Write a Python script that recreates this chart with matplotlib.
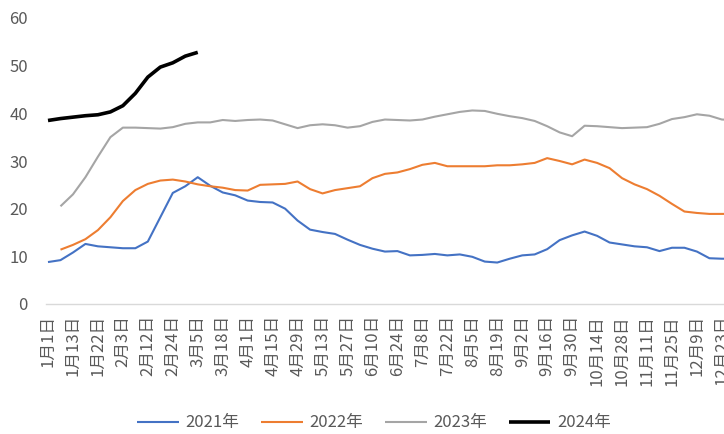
import numpy as np
import matplotlib
matplotlib.use("Agg")
import matplotlib.pyplot as plt

plt.rcParams['font.family'] = ['Noto Sans CJK SC', 'DejaVu Sans']

# weekly categories (every 2nd one is labelled on the axis)
categories = [
    "1月1日", "1月6日", "1月13日", "1月18日", "1月22日", "1月28日", "2月3日", "2月7日",
    "2月12日", "2月18日", "2月24日", "2月29日", "3月5日", "3月11日", "3月18日", "3月25日",
    "4月1日", "4月8日", "4月15日", "4月22日", "4月29日", "5月6日", "5月13日", "5月20日",
    "5月27日", "6月3日", "6月10日", "6月17日", "6月24日", "7月1日", "7月8日", "7月15日",
    "7月22日", "7月29日", "8月5日", "8月12日", "8月19日", "8月26日", "9月2日", "9月9日",
    "9月16日", "9月23日", "9月30日", "10月7日", "10月14日", "10月21日", "10月28日", "11月4日",
    "11月11日", "11月18日", "11月25日", "12月2日", "12月9日", "12月16日", "12月23日", "12月30日",
]

nan = np.nan
s2021 = [8.8, 9.2, 10.8, 12.6, 12.1, 11.9, 11.7, 11.7, 13.1, 18.2, 23.3, 24.7, 26.6, 24.8,
         23.4, 22.8, 21.7, 21.4, 21.3, 20.0, 17.5, 15.6, 15.1, 14.7, 13.5, 12.4, 11.6, 11.0,
         11.1, 10.2, 10.3, 10.5, 10.2, 10.4, 9.9, 8.9, 8.7, 9.5, 10.2, 10.4, 11.5, 13.4, 14.4,
         15.2, 14.3, 12.9, 12.5, 12.1, 11.9, 11.1, 11.8, 11.8, 11.0, 9.6, 9.5, 9.5]
s2022 = [nan, 11.4, 12.4, 13.6, 15.5, 18.2, 21.6, 23.9, 25.2, 25.9, 26.1, 25.7, 25.1, 24.7,
         24.4, 23.9, 23.8, 25.0, 25.1, 25.2, 25.7, 24.1, 23.2, 23.9, 24.3, 24.7, 26.4, 27.3,
         27.6, 28.3, 29.2, 29.6, 28.9, 28.9, 28.9, 28.9, 29.1, 29.1, 29.3, 29.6, 30.6, 30.0,
         29.3, 30.3, 29.6, 28.5, 26.4, 25.1, 24.1, 22.7, 21.0, 19.4, 19.1, 18.9, 18.9, 18.9]
s2023 = [nan, 20.5, 23.0, 26.6, 30.9, 35.0, 37.0, 37.0, 36.9, 36.8, 37.1, 37.8, 38.1, 38.1,
         38.6, 38.4, 38.6, 38.7, 38.5, 37.7, 36.9, 37.5, 37.7, 37.5, 37.0, 37.3, 38.2, 38.7,
         38.6, 38.5, 38.7, 39.3, 39.8, 40.3, 40.6, 40.5, 39.9, 39.4, 39.0, 38.4, 37.3, 36.0,
         35.2, 37.4, 37.3, 37.1, 36.9, 37.0, 37.1, 37.8, 38.8, 39.2, 39.8, 39.5, 38.7, 38.6]
s2024 = [38.5, 38.9, 39.2, 39.5, 39.7, 40.3, 41.6, 44.2, 47.6, 49.7, 50.6, 52.0, 52.8]

series = [("2021年", s2021, "#4472C4", 1.5),
          ("2022年", s2022, "#ED7D31", 1.5),
          ("2023年", s2023, "#A5A5A5", 1.5),
          ("2024年", s2024, "#000000", 2.6)]

yticks = [0, 10, 20, 30, 40, 50, 60]

W, H = 724, 434
fig = plt.figure(figsize=(W / 100, H / 100), dpi=100)
ax_left, ax_right, ax_top, ax_bottom = 46, 724, 18, 304
ax = fig.add_axes([ax_left / W, 1 - ax_bottom / H, (ax_right - ax_left) / W, (ax_bottom - ax_top) / H])

x = np.arange(len(categories))
for name, vals, color, lw in series:
    ax.plot(x[:len(vals)], vals, color=color, lw=lw, label=name,
            solid_joinstyle='round', solid_capstyle='butt')

ax.set_ylim(0, 60)
ax.set_xlim(-0.16, 54.17)
ax.set_yticks(yticks)
ax.set_xticks(x[::2])
ax.set_xticklabels(categories[::2], rotation=90, va='top', ha='center')

txt = '#595959'
ax.tick_params(axis='both', length=0, labelsize=12, labelcolor=txt)
ax.tick_params(axis='y', pad=13)
ax.tick_params(axis='x', pad=8)
for side in ['top', 'right', 'left']:
    ax.spines[side].set_visible(False)
ax.spines['bottom'].set_color('#D9D9D9')
ax.spines['bottom'].set_linewidth(1.0)

leg = fig.legend(loc='center', bbox_to_anchor=(374 / W, 1 - 423 / H), ncol=4,
                 frameon=False, fontsize=12, handlelength=2.5, handletextpad=0.4,
                 columnspacing=1.3, labelcolor=txt)

fig.savefig('out.png', dpi=100)
